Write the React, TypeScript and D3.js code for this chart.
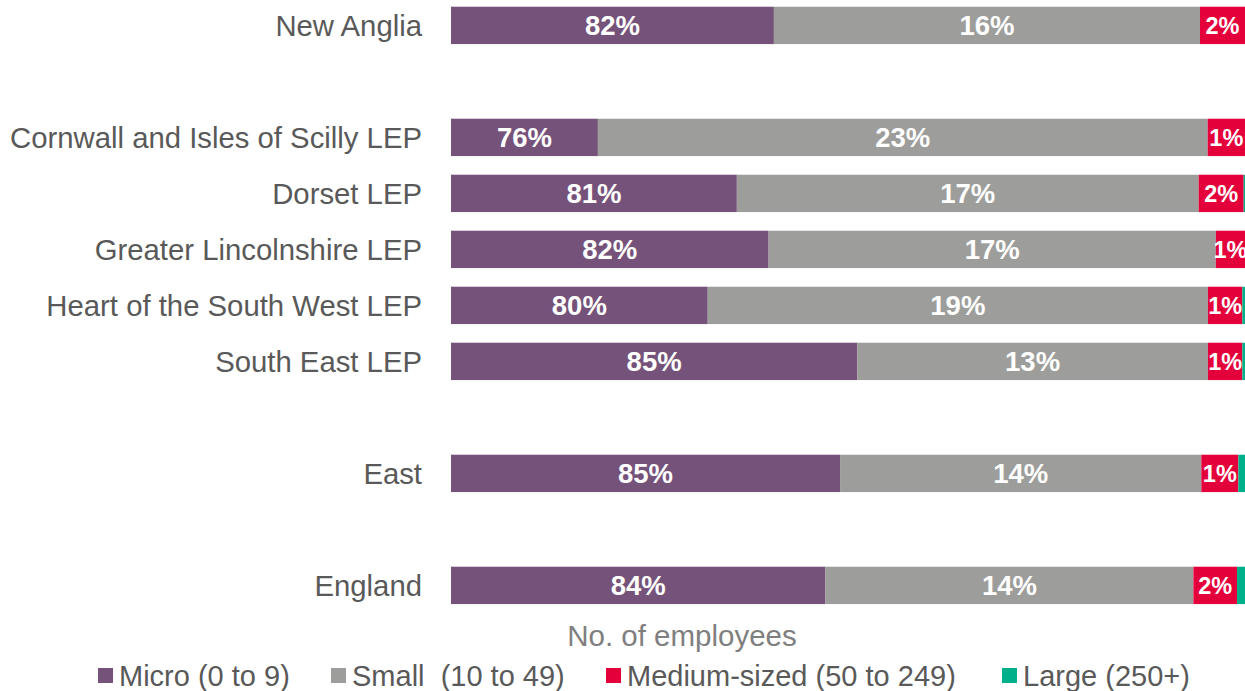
import { scaleBand, scaleLinear } from "d3";

const W = 1245;
const H = 691;

// rows, with empty slots for the gaps between groups
const categories = [
  "New Anglia",
  "gap1",
  "Cornwall and Isles of Scilly LEP",
  "Dorset LEP",
  "Greater Lincolnshire LEP",
  "Heart of the South West LEP",
  "South East LEP",
  "gap2",
  "East",
  "gap3",
  "England",
];

const seriesNames = ["Micro (0 to 9)", "Small  (10 to 49)", "Medium-sized (50 to 249)", "Large (250+)"];
const seriesColors = ["#75527a", "#9d9d9b", "#e4003b", "#00b08a"];

// share of businesses (%), per row (gaps have no values)
const micro = [82.2, null, 75.55, 80.8, 82.0, 79.7, 85.35, null, 84.7, null, 84.15];
const small = [16.1, null, 23.04, 17.45, 16.9, 18.9, 13.25, null, 13.65, null, 13.9];
const medium = [1.7, null, 1.41, 1.7, 1.1, 1.3, 1.3, null, 1.4, null, 1.65];
const large = [0, null, 0, 0.05, 0, 0.1, 0.1, null, 0.25, null, 0.3];

// the source chart's value axis runs from 70% to 100%
const xDomain = [70, 100];

const legendX = [98, 331, 606, 1002];

export default function App() {
  const x = scaleLinear().domain(xDomain).range([451, 1245]);
  const y = scaleBand<string>()
    .domain(categories)
    .range([-2.6, -2.6 + 56 * categories.length])
    .paddingInner(0.333)
    .paddingOuter(0.1665);
  const series = [micro, small, medium, large];

  return (
    <div style={{ position: "absolute", left: 0, top: 0 }}>
      <svg width={W} height={H} style={{ display: "block", fontFamily: "'Liberation Sans', Arial, sans-serif" }}>
        {categories.map((c, i) => {
          if (micro[i] == null) return null;
          const y0 = y(c) ?? 0;
          const bh = y.bandwidth();
          let acc = xDomain[0];
          return (
            <g key={c}>
              <text x={422} y={y0 + bh / 2} dy="0.35em" textAnchor="end" fill="#595959" fontSize={29.3}>
                {c}
              </text>
              {series.map((s, k) => {
                const v = s[i] as number;
                const start = acc;
                acc = k === 0 ? v : acc + v;
                const end = k === 0 ? v : acc;
                const x0 = x(start);
                const x1 = x(end);
                if (x1 - x0 <= 0) return null;
                return (
                  <g key={k}>
                    <rect x={x0} y={y0} width={x1 - x0} height={bh} fill={seriesColors[k]} />
                    {v >= 0.5 && (
                      <text
                        x={(x0 + x1) / 2}
                        y={y0 + bh / 2}
                        dy="0.36em"
                        textAnchor="middle"
                        fill="#fff"
                        fontWeight="bold"
                        fontSize={k === 2 ? 23.5 : 27.5}
                      >
                        {Math.round(v)}%
                      </text>
                    )}
                  </g>
                );
              })}
            </g>
          );
        })}
        <text x={682} y={646} textAnchor="middle" fill="#7f7f7f" fontSize={29.5}>
          No. of employees
        </text>
        {seriesNames.map((n, k) => (
          <g key={n} transform={`translate(${legendX[k]},0)`}>
            <rect x={0} y={668} width={15} height={15} fill={seriesColors[k]} />
            <text x={21} y={686} fill="#595959" fontSize={29} style={{ whiteSpace: "pre" }}>
              {n}
            </text>
          </g>
        ))}
      </svg>
    </div>
  );
}
